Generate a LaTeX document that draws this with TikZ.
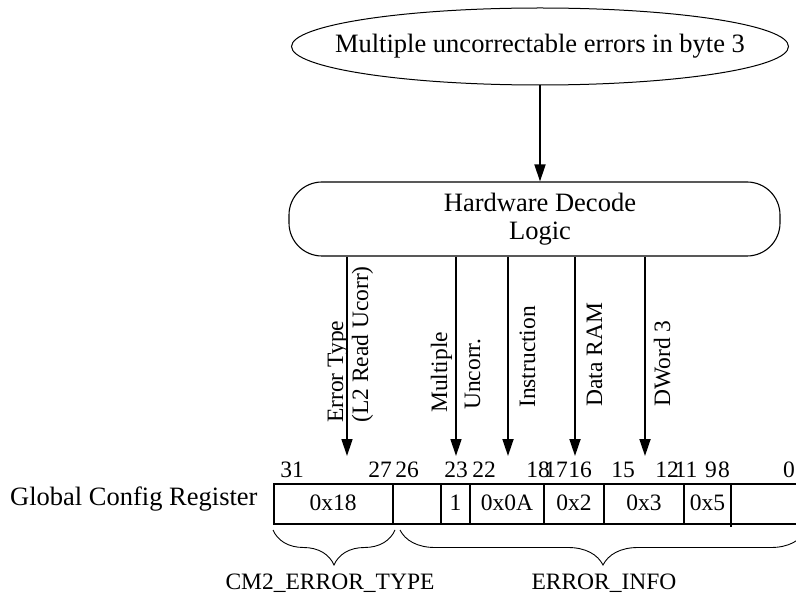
\documentclass[tikz,border=0pt]{standalone}
\usepackage{fontspec}
\setmainfont{Liberation Serif}
\usetikzlibrary{shapes.geometric,arrows.meta,decorations.pathreplacing}
\newcommand{\bigf}{\fontsize{26.5}{27.5}\selectfont}
\newcommand{\smallf}{\fontsize{23.5}{26}\selectfont}
\begin{document}
\begin{tikzpicture}[x=1pt,y=-1pt,
  arr/.style={line width=1.8pt,-{Triangle[length=17pt,width=11pt]}},
  thinarr/.style={arr, line width=1.4pt},
  lbl/.style={font=\smallf, rotate=90, anchor=base west, inner sep=0pt},
  bit/.style={font=\smallf, anchor=base, inner sep=0pt},
  cell/.style={font=\smallf, inner sep=0pt},
  sep/.style={line width=2pt},
  brc/.style={decorate, decoration={brace, amplitude=35pt}, line width=0.9pt}]
\useasboundingbox (0,0) rectangle (796,596);

% top ellipse
\node[ellipse, draw, line width=1pt, minimum width=497pt, minimum height=77pt, inner sep=0pt] (err) at (540,46.5) {};
\node[font=\bigf, inner sep=0pt, anchor=base] (errtxt) at (540,52.5) {Multiple uncorrectable errors in byte 3};

% decode logic
\node[draw, rounded corners=33pt, line width=1.1pt, minimum width=491pt, minimum height=74pt, inner sep=0pt] (hw) at (534.5,219) {};
\node[font=\bigf, align=center, inner sep=0pt] (hwtxt) at (540,219) {Hardware Decode\\Logic};

\draw[arr] (err.south) -- (err.south |- hw.north);

% register
\node[font=\bigf, anchor=base west, inner sep=0pt] (gcr) at (10,505) {Global Config Register};
\node[draw, line width=2pt, minimum width=530pt, minimum height=40pt, anchor=north west, inner sep=0pt] (reg) at (273,483) {};
\foreach \x in {393,441,470,544,604,684} \draw[sep] (\x,483) -- (\x,523);
\draw[sep] (731,483) -- (731,527);

\node[cell] (c1) at (333,503) {0x18};
\node[cell] (c2) at (455.5,503) {1};
\node[cell] (c3) at (507,503) {0x0A};
\node[cell] (c4) at (574,503) {0x2};
\node[cell] (c5) at (644,503) {0x3};
\node[cell] (c6) at (707.5,503) {0x5};

% bit numbers
\node[bit] (b31) at (292,477) {31};
\node[bit] (b27) at (380,477) {27};
\node[bit] (b26) at (407,477) {26};
\node[bit] (b23) at (456,477) {23};
\node[bit] (b22) at (484,477) {22};
\node[bit] (b18) at (538,477) {18};
\node[bit] (b17) at (556,477) {17};
\node[bit] (b16) at (580,477) {16};
\node[bit] (b15) at (623,477) {15};
\node[bit] (b12) at (667,477) {12};
\node[bit] (b11) at (686,477) {11};
\node[bit] (b9) at (711,477) {9};
\node[bit] (b8) at (724,477) {8};
\node[bit] (b0) at (789,477) {0};

% arrows from decode logic
\coordinate (t1) at (347,456);
\coordinate (t2) at (456,456);
\coordinate (t3) at (508,456);
\coordinate (t4) at (575,456);
\coordinate (t5) at (645,456);
\draw[thinarr] (hw.south -| t1) -- (t1);
\draw[thinarr] (hw.south -| t2) -- (t2);
\foreach \t in {t3,t4,t5} \draw[arr] (hw.south -| \t) -- (\t);

% rotated labels
\node[lbl] (l1a) at (343,423) {Error Type};
\node[lbl] (l1b) at (368,423) {(L2 Read Ucorr)};
\node[lbl] (l2a) at (447,413) {Multiple};
\node[lbl] (l2b) at (480,410) {Uncorr.};
\node[lbl] (l3) at (535,408) {Instruction};
\node[lbl] (l4) at (602,407) {Data RAM};
\node[lbl] (l5) at (670,407) {DWord 3};

% braces
\draw[brc] (395,530) -- (273,530);
\draw[brc] (806,530) -- (400,530);
\node[font=\smallf, anchor=base, inner sep=0pt] (cmt) at (330,589) {CM2\_ERROR\_TYPE};
\node[font=\smallf, anchor=base, inner sep=0pt] (einfo) at (604,589) {ERROR\_INFO};
\end{tikzpicture}
\end{document}
